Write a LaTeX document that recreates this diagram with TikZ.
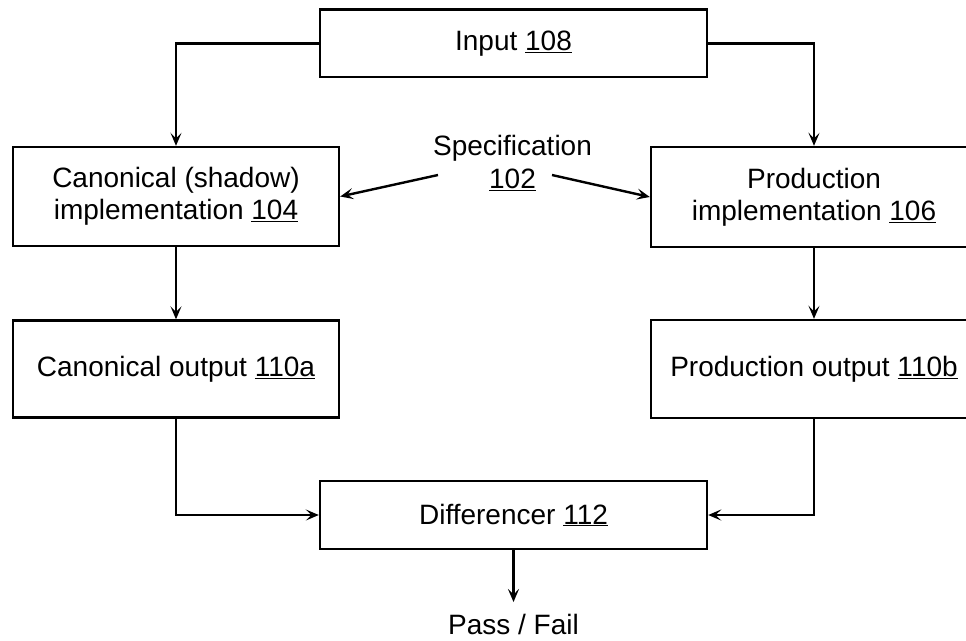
\documentclass[tikz,border=0pt]{standalone}
\usepackage{fontspec}
\setmainfont{Liberation Sans}
\usetikzlibrary{arrows.meta,calc}

\tikzset{
  blk/.style={draw=black, line width=2.4pt, align=center, inner sep=0pt,
              font=\fontsize{28}{32}\selectfont},
  lbl/.style={align=center, inner sep=0pt, font=\fontsize{28}{33}\selectfont},
  arr/.style={line width=2.4pt, -{Stealth[length=13pt,width=11pt,inset=5.5pt]}},
}
\newcommand{\refnum}[1]{\underline{#1}}

\begin{document}
\begin{tikzpicture}[x=1pt, y=-1pt]
  \clip (0,0) rectangle (966,640);

  % processing blocks
  \node[blk, minimum width=387pt, minimum height=67.5pt] (inp)   at (513.5, 43.3) {Input \refnum{108}};
  \node[blk, minimum width=326pt, minimum height=99pt]   (canon) at (176, 196.5) {Canonical (shadow)\\implementation \refnum{104}};
  \node[blk, minimum width=326pt, minimum height=100pt]  (prod)  at (814, 197)   {Production\\implementation \refnum{106}};
  \node[blk, minimum width=326pt, minimum height=97pt]   (cout)  at (176, 369)   {Canonical output \refnum{110a}};
  \node[blk, minimum width=326pt, minimum height=98pt]   (pout)  at (814, 369)   {Production output \refnum{110b}};
  \node[blk, minimum width=387pt, minimum height=68pt]   (diff)  at (513.5, 515) {Differencer \refnum{112}};

  % free labels
  \node[lbl] (spec) at (512.5, 163) {Specification\\\refnum{102}};
  \node[lbl, anchor=base, inner ysep=11.5pt] (pf) at (513.5, 634) {Pass / Fail};
  \coordinate (sl) at (438, 175);
  \coordinate (sr) at (552, 175);

  % connectors
  \draw[arr] (inp.west) -| (canon.north);
  \draw[arr] (inp.east) -| (prod.north);
  \draw[arr] (sl) -- (canon.east);
  \draw[arr] (sr) -- (prod.west);
  \draw[arr] (canon.south) -- (cout.north);
  \draw[arr] (prod.south) -- (pout.north);
  \draw[arr] (cout.south) |- (diff.west);
  \draw[arr] (pout.south) |- (diff.east);
  \draw[arr] (diff.south) -- (pf.north);
\end{tikzpicture}
\end{document}
